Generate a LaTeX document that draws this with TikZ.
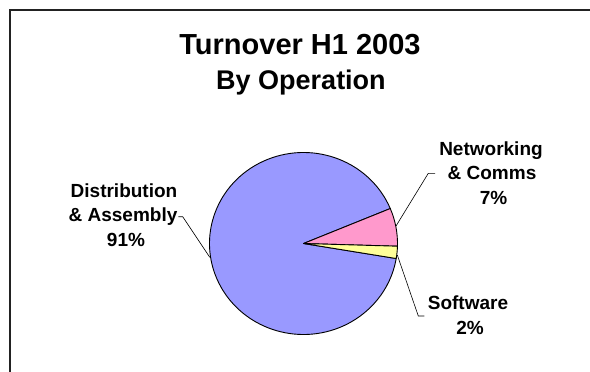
\documentclass[tikz,border=0pt]{standalone}
\usepackage{fontspec}
\setmainfont{Liberation Sans}
\usetikzlibrary{calc}
\definecolor{pblue}{HTML}{9999FF}
\definecolor{ppink}{HTML}{FF99CC}
\definecolor{pyellow}{HTML}{FFFF99}
\definecolor{frame}{HTML}{222222}
\begin{document}
\begin{tikzpicture}[x=1pt,y=1pt,
  lbl/.style={font=\bfseries\fontsize{19}{22}\selectfont,inner sep=0pt,anchor=base},
  ttl/.style={font=\bfseries\fontsize{29}{34}\selectfont,inner sep=0pt,anchor=base},
  sub/.style={font=\bfseries\fontsize{27}{32}\selectfont,inner sep=0pt,anchor=base},
  slice/.style={draw=black,line width=0.9pt,line join=round},
  leader/.style={draw=black,line width=0.6pt}]
\useasboundingbox (0,0) rectangle (590,-372);
\fill[white] (0,0) rectangle (590,-372);
% frame (extends beyond the picture)
\draw[frame,line width=2pt] (10,-380) -- (10,-10) -- (600,-10);
% titles
\node[ttl] (title) at (300,-54.3) {Turnover H1 2003};
\node[sub] (subtitle) at (301,-89) {By Operation};
% pie
\coordinate (C) at (303.5,-243.5);
\path[slice,fill=pblue] (C) -- ($(C)+(22.6:94 and 91)$) arc[start angle=22.6,end angle=350.5,x radius=94,y radius=91] -- cycle;
\path[slice,fill=ppink] (C) -- ($(C)+(-1.7:94 and 91)$) arc[start angle=-1.7,end angle=22.6,x radius=94,y radius=91] -- cycle;
\path[slice,fill=pyellow] (C) -- ($(C)+(-9.5:94 and 91)$) arc[start angle=-9.5,end angle=-1.7,x radius=94,y radius=91] -- cycle;
% labels
\node[lbl] (net1) at (491,-155) {Networking};
\node[lbl] (net2) at (492,-179.3) {\&~Comms};
\node[lbl] (net3) at (493.5,-204) {7\%};
\node[lbl] (sw1) at (468,-309.3) {Software};
\node[lbl] (sw2) at (470,-334) {2\%};
\node[lbl] (dis1) at (124,-197.3) {Distribution};
\node[lbl] (dis2) at (123,-221.7) {\&~Assembly};
\node[lbl] (dis3) at (126,-246) {91\%};
% leaders
\coordinate (netP) at (396,-226);
\coordinate (netK) at (428.3,-173.3);
\coordinate (netE) at (435,-173.3);
\draw[leader] (netP) -- (netK) -- (netE);
\coordinate (swP) at (397.3,-255);
\coordinate (swK) at (418.3,-316);
\coordinate (swE) at (424.3,-316);
\draw[leader] (swP) -- (swK) -- (swE);
\coordinate (disE) at (178.3,-216.7);
\coordinate (disK) at (182.7,-216.7);
\coordinate (disP) at (209.8,-257.3);
\draw[leader] (disE) -- (disK) -- (disP);
\end{tikzpicture}
\end{document}
